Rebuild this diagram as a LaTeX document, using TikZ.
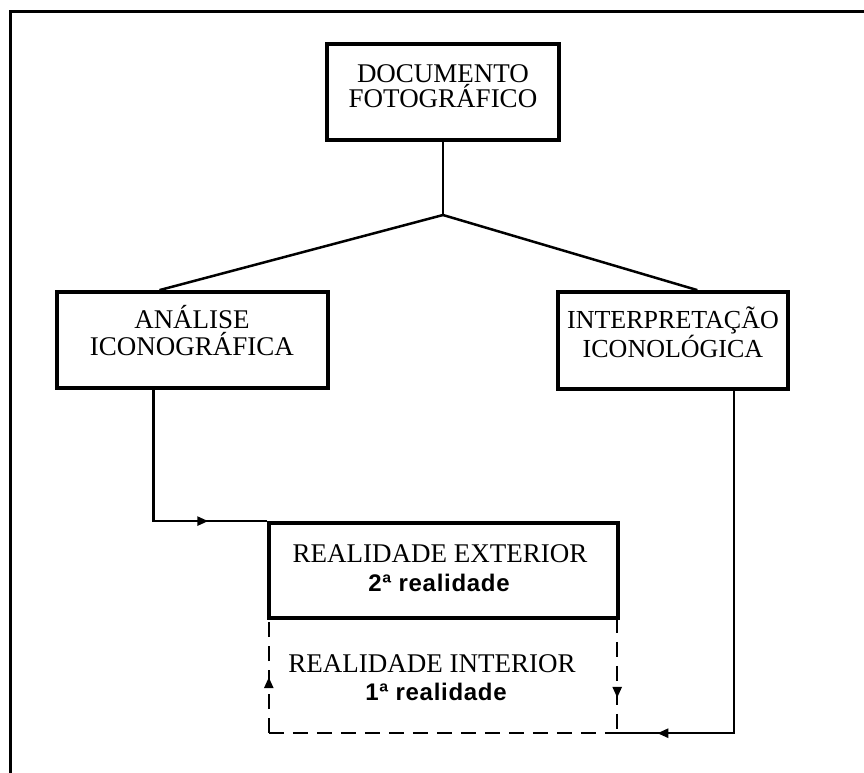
\documentclass[tikz,border=0pt]{standalone}
\usepackage{fontspec}
\setmainfont{Liberation Serif}
\setsansfont{Liberation Sans}
\usetikzlibrary{arrows.meta,decorations.markings,calc}
\begin{document}
\begin{tikzpicture}[x=1pt,y=-1pt,
  box/.style={draw, line width=3.8pt, inner sep=0pt},
  txt/.style={font=\fontsize{27}{27}\selectfont, inner sep=0pt, anchor=base},
  rtxt/.style={font=\fontsize{26}{26}\selectfont, inner sep=0pt, anchor=base},
  btxt/.style={font=\sffamily\bfseries\fontsize{24}{24}\selectfont\addfontfeature{LetterSpace=3}, inner sep=0pt, anchor=base},
  conn/.style={line width=2.5pt},
  dashedge/.style={line width=2.5pt, dash pattern=on 15pt off 9pt},
  midarrow/.style={postaction={decorate}, decoration={markings,
     mark=at position #1 with {\arrow{Triangle[length=11pt,width=9pt]}}}}
]
\useasboundingbox (0,0) rectangle (864,772);
% outer frame (cut off at right and bottom)
\begin{scope}
\clip (0,0) rectangle (864,772);
\draw[line width=3pt] (10,11) rectangle (900,800);
\end{scope}

% boxes
\node[box, minimum width=232pt, minimum height=96pt] (doc) at (443,92) {};
\node[box, minimum width=271pt, minimum height=96pt] (anal) at (192.5,340) {};
\node[box, minimum width=230pt, minimum height=97pt] (interp) at (673,340.5) {};
\node[box, minimum width=349pt, minimum height=95pt] (ext) at (443.5,570.5) {};
\node[minimum width=348pt, minimum height=115pt, inner sep=0pt] (int) at (443,675.5) {};

% texts
\node[txt] (doc1) at (443,82) {DOCUMENTO};
\node[txt] (doc2) at (443,107) {FOTOGRÁFICO};
\node[txt] (an1) at (192,328) {ANÁLISE};
\node[txt] (an2) at (192,355) {ICONOGRÁFICA};
\node[rtxt] (ip1) at (673,328) {INTERPRETAÇÃO};
\node[rtxt] (ip2) at (673,357) {ICONOLÓGICA};
\node[txt] (ex1) at (440,562) {REALIDADE EXTERIOR};
\node[btxt] (ex2) at (439,591) {2ª realidade};
\node[txt] (in1) at (432,672) {REALIDADE INTERIOR};
\node[btxt] (in2) at (436,700) {1ª realidade};

% connectors
\coordinate (jn) at (443,215);
\draw[conn] (doc.south) -- (jn);
\draw[conn] (jn) -- ($(anal.north west)!0.38!(anal.north east)$);
\draw[conn] (jn) -- ($(interp.north west)!0.604!(interp.north east)$);
\draw[conn, midarrow=186pt] ($(anal.south west)!0.358!(anal.south east)$) |- (ext.north west);
\draw[conn, midarrow=419pt] ($(interp.south west)!0.761!(interp.south east)$) |- (int.south east);
\draw[dashedge, midarrow=56pt] (int.south west) -- (int.north west);
\draw[dashedge, midarrow=80pt] (int.north east) -- (int.south east);
\draw[dashedge] (int.south west) -- (int.south east);
\end{tikzpicture}
\end{document}
